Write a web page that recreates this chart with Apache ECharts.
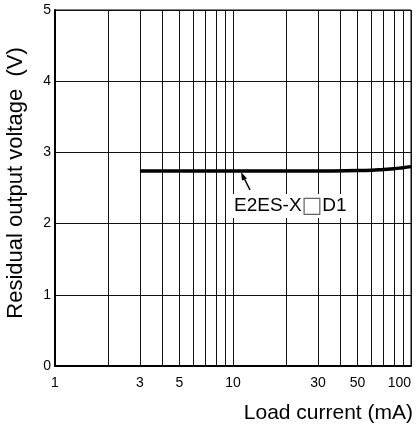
<!DOCTYPE html>
<html>
<head>
    <title>Residual output voltage</title>
    <style>
        body { margin: 0; background: #fff; }
    </style>
</head>
<body>
    <div id="main" style="width: 416px;height:425px;"></div>

    <script src="https://cdn.jsdelivr.net/npm/echarts@6/dist/echarts.min.js"></script>
    <script>
        // load current (mA) and residual voltage (V)
        var loadCurrent = [3, 5, 10, 20, 30, 50, 60, 70, 80, 90, 100];
        var residualV = [2.74, 2.74, 2.74, 2.74, 2.74, 2.745, 2.75, 2.76, 2.77, 2.785, 2.8];
        var xLabels = [1, 3, 5, 10, 30, 50, 100];
        var xGrid = [1, 2, 3, 4, 5, 6, 7, 8, 9, 10, 20, 30, 40, 50, 60, 70, 80, 90, 100];

        var font = 'Liberation Sans, Arial, sans-serif';
        var myChart = echarts.init(document.getElementById('main'));

        var option = {
            animation: false,
            grid: {
                left: 55, right: 5, top: 10, bottom: 59,
                outerBoundsMode: 'none',
                containLabel: false,
                show: true, borderColor: '#000', borderWidth: 1
            },
            xAxis: {
                type: 'log',
                min: 1,
                max: 100,
                axisLine: { show: true, lineStyle: { color: '#000', width: 2 } },
                axisTick: { show: false, customValues: xGrid },
                splitLine: { show: true, lineStyle: { color: '#111', width: 1 } },
                axisLabel: {
                    customValues: xLabels,
                    color: '#000',
                    fontSize: 14,
                    fontFamily: font,
                    margin: 5,
                    alignMaxLabel: 'right'
                }
            },
            yAxis: {
                type: 'value',
                min: 0,
                max: 5,
                interval: 1,
                axisLine: { show: true, lineStyle: { color: '#000', width: 2 } },
                axisTick: { show: false },
                splitLine: { show: true, lineStyle: { color: '#111', width: 1 } },
                axisLabel: { color: '#000', fontSize: 14, fontFamily: font, margin: 4 }
            },
            series: [{
                type: 'line',
                data: loadCurrent.map(function (x, i) { return [x, residualV[i]]; }),
                symbol: 'none',
                smooth: true,
                lineStyle: { color: '#000', width: 3.5 }
            }],
            graphic: [
                {
                    type: 'text',
                    x: 16, y: 183,
                    rotation: Math.PI / 2,
                    style: {
                        text: 'Residual output voltage  (V)',
                        fill: '#000',
                        font: '22px ' + font,
                        align: 'center',
                        verticalAlign: 'middle'
                    }
                },
                {
                    type: 'text',
                    x: 232, y: 206,
                    style: {
                        text: 'E2ES-X{b|\u25a1}D1',
                        fill: '#000',
                        font: '19px ' + font,
                        lineHeight: 22,
                        verticalAlign: 'middle',
                        backgroundColor: '#fff',
                        padding: [1, 2],
                        rich: {
                            b: { fontSize: 22, lineHeight: 22, fontFamily: 'DejaVu Sans', fill: '#666' }
                        }
                    },
                    z: 100
                },
                {
                    type: 'line',
                    shape: { x1: 250, y1: 190, x2: 243, y2: 176 },
                    style: { stroke: '#000', lineWidth: 1.5 },
                    z: 100
                },
                {
                    type: 'polygon',
                    shape: { points: [[241, 172], [247, 178.5], [242, 180.5]] },
                    style: { fill: '#000' },
                    z: 100
                },
                {
                    type: 'text',
                    x: 413, y: 413,
                    style: {
                        text: 'Load current (mA)',
                        fill: '#000',
                        font: '21px ' + font,
                        align: 'right',
                        verticalAlign: 'middle'
                    }
                }
            ]
        };
        myChart.setOption(option);
    </script>
</body>
</html>
